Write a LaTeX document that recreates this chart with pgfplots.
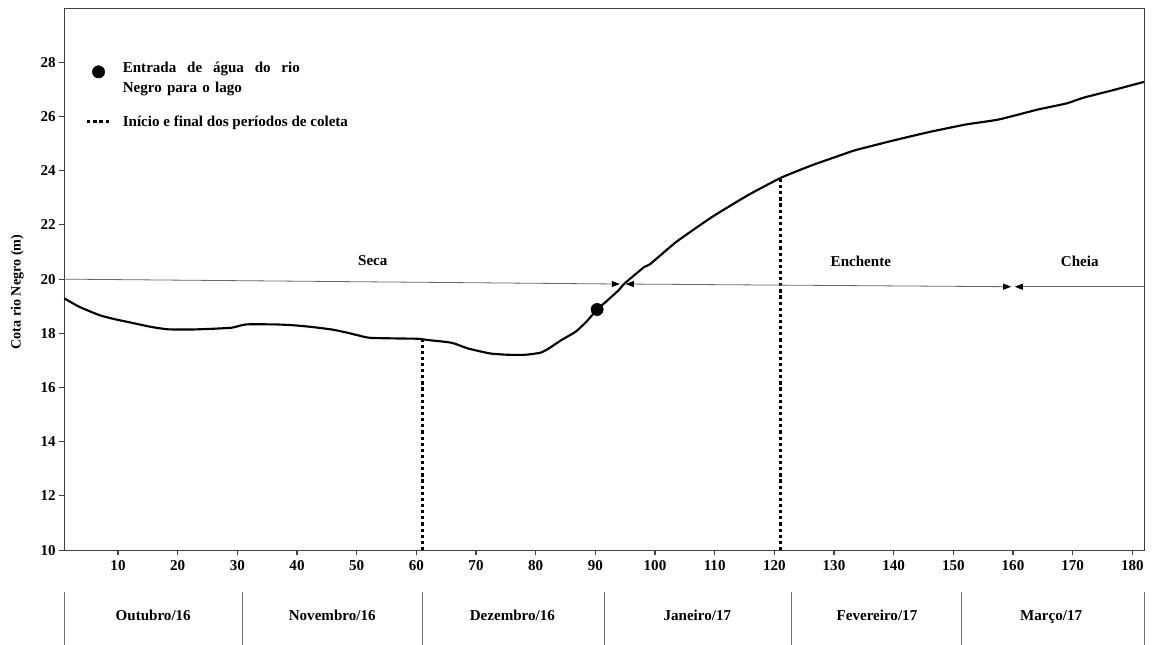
\documentclass[border=0pt]{standalone}
\usepackage{pgfplots}
\pgfplotsset{compat=1.18}
\usepackage{fontspec}
\setmainfont{Liberation Serif}
\usetikzlibrary{arrows.meta}
\newcommand{\fs}{\fontsize{11.3}{13.5}\selectfont\bfseries}
\tikzset{parrow/.style={black!60, line width=0.6pt, >={Triangle[length=6pt,width=4.5pt,color=black,fill=black]}}}
\begin{document}
\begin{tikzpicture}
\begin{axis}[
  scale only axis, width=809.9pt, height=406.5pt,
  xmin=1, xmax=182, ymin=10, ymax=30,
  xtick={10,20,...,180}, ytick={10,12,...,28},
  tick pos=left, tick align=outside, major tick length=4pt,
  axis line style={black!75, line width=0.9pt},
  tick style={black!75, line width=0.8pt},
  ticklabel style={font=\fs},
  /pgf/number format/assume math mode=true,
  yticklabel style={xshift=1pt},
  clip=false,
  legend style={draw=none, fill=none, at={(axis cs:3.86,28.31)}, anchor=north west,
     font=\fs, row sep=19.5pt, legend cell align=left},
]
% river stage
\addplot[black, line width=1.6pt, smooth, tension=0.3, forget plot] coordinates {
(1,19.29) (3.5,18.98) (6.9,18.67) (9.5,18.52) (12.3,18.39) (15.5,18.24) (18.3,18.15)
(22,18.14) (26,18.17) (29.1,18.21) (31.5,18.33) (36.3,18.33) (39.3,18.30) (42.3,18.24)
(45.9,18.14) (48.3,18.03) (51.3,17.87) (52.5,17.83) (57.3,17.81) (60.3,17.80)
(62.1,17.75) (65.1,17.68) (66.3,17.63) (68.7,17.44) (72.3,17.26) (75.3,17.21)
(78.3,17.21) (80.7,17.28) (81.9,17.40) (84.3,17.75) (86.7,18.06) (88.5,18.43)
(90.3,18.88) (92.1,19.23) (93.9,19.59) (94.9,19.84) (98.2,20.45) (99.1,20.54)
(103.6,21.38) (109.6,22.30) (115.6,23.10) (121.2,23.75) (126.4,24.21) (131.2,24.58)
(133.6,24.76) (140.2,25.13) (146.2,25.44) (152.2,25.71) (157.6,25.89) (164.2,26.26)
(168.9,26.48) (171.9,26.70) (176.7,26.97) (182,27.28)
};
\addplot[only marks, mark=*, mark size=4.6pt, black] coordinates {(90.3,18.88)};
\addlegendentry{\hspace{6.5pt}\begin{tabular}{@{}l@{}}\makebox[132.8pt][s]{Entrada de água do rio}\\[1.5pt]\makebox[89.3pt][s]{Negro para o lago}\end{tabular}}
\addplot[black, line width=2.3pt, dash pattern=on 2.4pt off 2.2pt] coordinates {(61,10) (61,17.78)};
\addlegendentry{\hspace{6.5pt}Início e final dos períodos de coleta}
\addplot[black, line width=2.3pt, dash pattern=on 2.4pt off 2.2pt, forget plot] coordinates {(121,10) (121,23.75)};
% period arrows
\draw[parrow, ->] (axis cs:1,20.0) -- (axis cs:94.1,19.82);
\draw[parrow, <->] (axis cs:95.1,19.82) -- (axis cs:159.7,19.72);
\draw[parrow, <-] (axis cs:160.3,19.72) -- (axis cs:182,19.72);
\node[font=\fs] at (axis cs:52.7,20.70) {Seca};
\node[font=\fs] at (axis cs:134.5,20.64) {Enchente};
\node[font=\fs] at (axis cs:171.2,20.64) {Cheia};
% y label
\node[rotate=90, font=\fontsize{10.6}{12.5}\selectfont\bfseries] at (axis cs:-6.9,19.52) {Cota rio Negro (m)};
% month table
\pgfplotsinvokeforeach{1,30.8,61,91.5,122.8,151.3,182}{
  \draw[black!55, line width=0.6pt] (axis cs:#1,8.45) -- (axis cs:#1,6.4);
}
\node[font=\fs, anchor=base] at (axis cs:15.9,7.42) {Outubro/16};
\node[font=\fs, anchor=base] at (axis cs:45.9,7.42) {Novembro/16};
\node[font=\fs, anchor=base] at (axis cs:76.1,7.42) {Dezembro/16};
\node[font=\fs, anchor=base] at (axis cs:107.1,7.42) {Janeiro/17};
\node[font=\fs, anchor=base] at (axis cs:137.2,7.42) {Fevereiro/17};
\node[font=\fs, anchor=base] at (axis cs:166.4,7.42) {Março/17};
\coordinate (bbl) at (axis cs:-9.78,6.53);
\coordinate (btr) at (axis cs:183.3,30.3);
\end{axis}
\pgfresetboundingbox
\path[use as bounding box] (bbl) rectangle (btr);
\end{tikzpicture}
\end{document}
